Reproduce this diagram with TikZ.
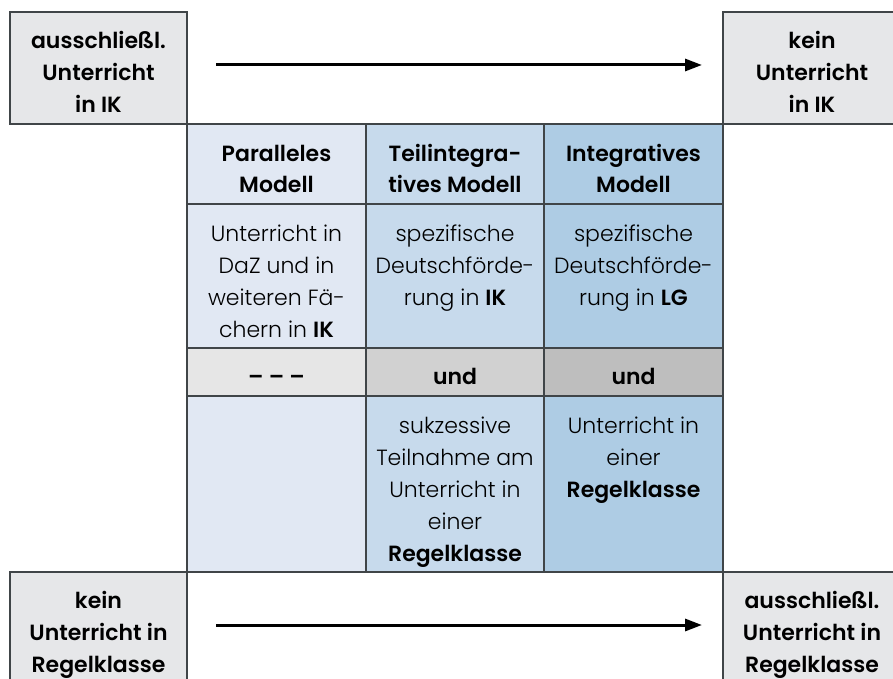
\documentclass[tikz,border=0pt]{standalone}
\usepackage{fontspec}
\setmainfont{Poppins}[UprightFont={* Light},BoldFont={* SemiBold}]
\usetikzlibrary{arrows.meta}
\definecolor{cA}{HTML}{E1E8F3}
\definecolor{cB}{HTML}{C7DAEC}
\definecolor{cC}{HTML}{AECCE4}
\definecolor{gA}{HTML}{E6E6E6}
\definecolor{gB}{HTML}{D1D1D1}
\definecolor{gC}{HTML}{BEBEBE}
\definecolor{gbox}{HTML}{E6E7E9}
\definecolor{edge}{HTML}{404548}
\tikzset{
  cell/.style={draw=edge,line width=1.6pt},
  txt/.style={inner sep=0pt,align=center,font=\fontsize{22}{32}\selectfont,anchor=base},
  hd/.style={txt,font=\fontsize{22}{31}\selectfont\bfseries},
  cor/.style={txt,font=\fontsize{22}{32}\selectfont\bfseries},
  arr/.style={line width=3pt,-{Triangle[length=17pt,width=12pt]}},
}
\begin{document}
\begin{tikzpicture}[x=1pt,y=-1pt]
\useasboundingbox (0,0) rectangle (893,679);
\clip (0,0) rectangle (893,679);
% gray corner boxes
\filldraw[cell,fill=gbox] (10,12) rectangle (187,124);
\filldraw[cell,fill=gbox] (723,12) rectangle (905,124);
\filldraw[cell,fill=gbox] (10,572) rectangle (187,690);
\filldraw[cell,fill=gbox] (723,572) rectangle (905,690);
% table columns
\filldraw[cell,fill=cA] (187,124) rectangle (366,348);
\filldraw[cell,fill=cB] (366,124) rectangle (544,348);
\filldraw[cell,fill=cC] (544,124) rectangle (723,348);
\filldraw[cell,fill=gA] (187,348) rectangle (366,396);
\filldraw[cell,fill=gB] (366,348) rectangle (544,396);
\filldraw[cell,fill=gC] (544,348) rectangle (723,396);
\filldraw[cell,fill=cA] (187,396) rectangle (366,572);
\filldraw[cell,fill=cB] (366,396) rectangle (544,572);
\filldraw[cell,fill=cC] (544,396) rectangle (723,572);
\draw[cell] (187,204) -- (723,204);
% corner texts (anchor = baseline of last line)
\node[cor] (tl) at (98.5,113) {ausschließl.\\Unterricht\\in IK};
\node[cor] (tr) at (812,113) {kein\\Unterricht\\in IK};
\node[cor] (bl) at (98.5,672) {kein\\Unterricht in\\Regelklasse};
\node[cor] (br) at (812,672) {ausschließl.\\Unterricht in\\Regelklasse};
% headers
\node[hd] (h1) at (276.5,193) {Paralleles\\Modell};
\node[hd] (h2) at (455,193) {Teilintegra-\\tives Modell};
\node[hd] (h3) at (633.5,193) {Integratives\\Modell};
% body 1
\node[txt] (a1) at (276.5,337) {Unterricht in\\DaZ und in\\weiteren Fä-\\chern in \textbf{IK}};
\node[txt] (a2) at (455,305) {spezifische\\Deutschförde-\\rung in \textbf{IK}};
\node[txt] (a3) at (633.5,305) {spezifische\\Deutschförde-\\rung in \textbf{LG}};
% und row
\node[hd] (u1) at (276.5,384) {– – –};
\node[hd] (u2) at (455,384) {und};
\node[hd] (u3) at (633.5,384) {und};
% body 2
\node[txt] (b2) at (455,561) {sukzessive\\Teilnahme am\\Unterricht in\\einer\\\textbf{Regelklasse}};
\node[txt] (b3) at (633.5,497) {Unterricht in\\einer\\\textbf{Regelklasse}};
% arrows
\coordinate (s1) at (216,65);
\coordinate (e1) at (702,65);
\coordinate (s2) at (216,625);
\coordinate (e2) at (702,625);
\draw[arr] (s1) -- (e1);
\draw[arr] (s2) -- (e2);
\end{tikzpicture}
\end{document}
